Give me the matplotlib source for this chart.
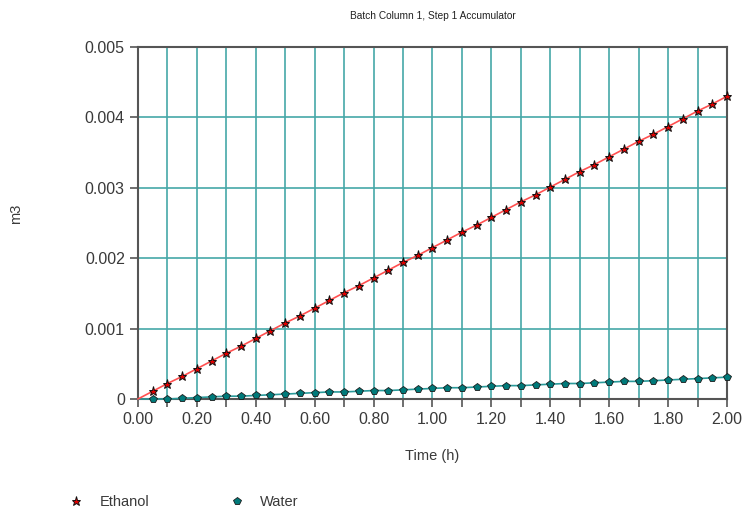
import matplotlib
matplotlib.use("Agg")
import matplotlib.pyplot as plt
from matplotlib.lines import Line2D
import numpy as np

plt.rcParams['font.family'] = ['Liberation Sans', 'DejaVu Sans']

# accumulator volumes, sampled every 0.05 h
time_h = [0.00, 0.05, 0.10, 0.15, 0.20, 0.25, 0.30, 0.35, 0.40, 0.45,
          0.50, 0.55, 0.60, 0.65, 0.70, 0.75, 0.80, 0.85, 0.90, 0.95,
          1.00, 1.05, 1.10, 1.15, 1.20, 1.25, 1.30, 1.35, 1.40, 1.45,
          1.50, 1.55, 1.60, 1.65, 1.70, 1.75, 1.80, 1.85, 1.90, 1.95, 2.00]
ethanol = [0.0, 0.00011, 0.00022, 0.00032, 0.00043, 0.00054, 0.00065, 0.00075,
           0.00086, 0.00097, 0.00108, 0.00118, 0.00129, 0.00140, 0.00151,
           0.00161, 0.00172, 0.00183, 0.00194, 0.00204, 0.00215, 0.00226,
           0.00237, 0.00247, 0.00258, 0.00269, 0.00280, 0.00290, 0.00301,
           0.00312, 0.00323, 0.00333, 0.00344, 0.00355, 0.00366, 0.00376,
           0.00387, 0.00398, 0.00409, 0.00419, 0.00430]
water = [0.0, 0.0, 0.0, 0.00001, 0.00002, 0.00003, 0.00004, 0.00004, 0.00005,
         0.00006, 0.00007, 0.00008, 0.00009, 0.00010, 0.00010, 0.00011,
         0.00012, 0.00012, 0.00013, 0.00014, 0.00015, 0.00016, 0.00016,
         0.00017, 0.00018, 0.00019, 0.00019, 0.00020, 0.00021, 0.00022,
         0.00022, 0.00023, 0.00024, 0.00025, 0.00025, 0.00026, 0.00027,
         0.00028, 0.00029, 0.00030, 0.00031]

grid_col = '#45a8a8'
spine_col = '#555555'
text_col = '#3a3a3a'

star_style = dict(marker='*', ms=6.5, mfc='#e00000', mec='#111111', mew=0.7)
pent_style = dict(marker='p', ms=5.5, mfc='#007a7a', mec='#1a1a1a', mew=0.6)

fig = plt.figure(figsize=(7.45, 5.11), dpi=100)
ax = fig.add_axes([0.1852, 0.2192, 0.7906, 0.6888])

ax.plot(time_h, ethanol, color='#ff5050', lw=1.2, markevery=slice(1, None),
        zorder=4, clip_on=False, **star_style)
ax.plot(time_h, water, color='#2a9a9a', lw=1.2, markevery=slice(1, None),
        zorder=3, clip_on=False, **pent_style)

ax.set_xlim(0, 2.0)
ax.set_ylim(0, 0.005)
ax.set_xticks(np.arange(0, 2.01, 0.2))
ax.set_xticks(np.arange(0.1, 2.0, 0.2), minor=True)
ax.set_xticklabels(['%.2f' % t for t in np.arange(0, 2.01, 0.2)])
ax.set_yticks(np.arange(0, 0.0051, 0.001))
ax.set_yticklabels(['0', '0.001', '0.002', '0.003', '0.004', '0.005'])

# vertical lines every 0.1 h, horizontal only at the labelled values
ax.grid(True, which='both', axis='x', color=grid_col, lw=1.2, zorder=0)
ax.grid(True, which='major', axis='y', color=grid_col, lw=1.2, zorder=0)
ax.set_axisbelow(True)
for s in ax.spines.values():
    s.set_color(spine_col)
    s.set_linewidth(1.5)
ax.tick_params(which='both', direction='out', length=6, width=1.2,
               color=spine_col, labelsize=11.5, labelcolor=text_col)

ax.set_xlabel('Time (h)', fontsize=10.5, color=text_col, labelpad=16)
ax.set_ylabel('m3', fontsize=10.5, color=text_col)
ax.yaxis.set_label_coords(-0.195, 0.526)
ax.set_title('Batch Column 1, Step 1 Accumulator', fontsize=7.3,
             color='#222222', pad=20)

handles = [Line2D([], [], ls='none', **star_style),
           Line2D([], [], ls='none', **pent_style)]
fig.legend(handles, ['Ethanol', 'Water'], loc='center left',
           bbox_to_anchor=(0.083, 0.018), ncol=2, frameon=False,
           borderpad=0, borderaxespad=0, fontsize=10.5, columnspacing=5.0,
           handletextpad=0.6, labelcolor=text_col)

fig.savefig('out.png', dpi=100)
